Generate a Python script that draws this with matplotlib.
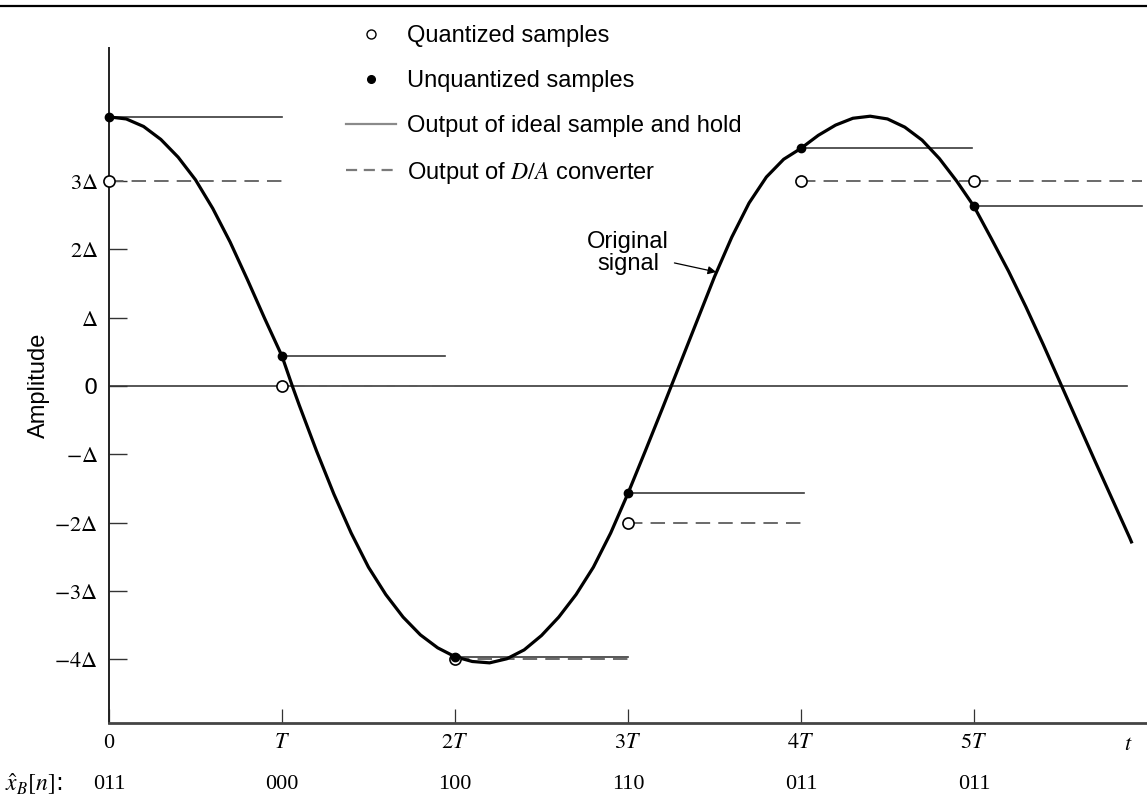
import matplotlib
matplotlib.use("Agg")
import matplotlib.pyplot as plt
from matplotlib.lines import Line2D

plt.rcParams['mathtext.fontset'] = 'stix'

# original signal (time in units of T, amplitude in units of delta)
sig_t = [0.0, 0.1, 0.2, 0.3, 0.4, 0.5, 0.6, 0.7, 0.8, 0.9, 1.0, 1.06, 1.1, 1.2,
         1.3, 1.4, 1.5, 1.6, 1.7, 1.8, 1.9, 2.0, 2.1, 2.2, 2.3, 2.4, 2.5, 2.6,
         2.7, 2.8, 2.9, 3.0, 3.1, 3.2, 3.3, 3.4, 3.5, 3.6, 3.7, 3.8, 3.9, 4.0,
         4.1, 4.2, 4.3, 4.4, 4.5, 4.6, 4.7, 4.8, 4.9, 5.0, 5.1, 5.2, 5.3, 5.4,
         5.5, 5.6, 5.7, 5.8, 5.9, 5.91]
sig_v = [3.94, 3.91, 3.80, 3.61, 3.35, 3.02, 2.60, 2.11, 1.56, 0.99, 0.44, 0.0,
         -0.28, -0.95, -1.58, -2.15, -2.65, -3.05, -3.38, -3.64, -3.83, -3.96,
         -4.03, -4.05, -3.99, -3.86, -3.65, -3.38, -3.05, -2.65, -2.15, -1.57,
         -0.95, -0.32, 0.32, 0.96, 1.60, 2.18, 2.68, 3.06, 3.32, 3.48, 3.67,
         3.82, 3.92, 3.95, 3.91, 3.79, 3.60, 3.33, 3.00, 2.63, 2.16, 1.68, 1.16,
         0.61, 0.04, -0.53, -1.10, -1.66, -2.22, -2.28]

sample_t = [0, 1, 2, 3, 4, 5]
unquantized = [3.94, 0.44, -3.96, -1.57, 3.48, 2.63]
quantized = [3, 0, -4, -2, 3, 3]
codes = ['011', '000', '100', '110', '011', '011']
hold_end = [1.0, 1.94, 3.0, 4.02, 4.99, 5.97]
da_end = [1.0, 2.0, 3.0, 4.02, 5.0, 5.97]

ytick_vals = [-4, -3, -2, -1, 0, 1, 2, 3]
ytick_labels = [r'$-4\Delta$', r'$-3\Delta$', r'$-2\Delta$', r'$-\Delta$', '0',
                r'$\Delta$', r'$2\Delta$', r'$3\Delta$']
xtick_labels = ['0', '$T$', '$2T$', '$3T$', '$4T$', '$5T$']

sans = 'Liberation Sans'
serif = 'Liberation Serif'

fig = plt.figure(figsize=(11.47, 7.98), dpi=100)
ax = fig.add_axes([0.095, 0.094, 0.905, 0.846])
ax.set_xlim(0, 6.0)
ax.set_ylim(-4.93, 4.95)

# zero reference line
ax.axhline(0, xmin=0, xmax=0.981, color='#3a3a3a', lw=1.2, zorder=1)

# sample and hold / D-A outputs
for t0, t1, u in zip(sample_t, hold_end, unquantized):
    ax.plot([t0, t1], [u, u], color='#3a3a3a', lw=1.2, zorder=2)
for t0, t1, q in zip(sample_t, da_end, quantized):
    ax.plot([t0, t1], [q, q], color='#5e5e5e', lw=1.3, ls=(0, (8, 4.5)), zorder=2)

ax.plot(sig_t, sig_v, color='black', lw=2.3, zorder=3, solid_joinstyle='round')

ax.plot(sample_t, quantized, 'o', ms=8, mfc='white', mec='black', mew=1.2,
        zorder=4, clip_on=False)
ax.plot(sample_t, unquantized, 'o', ms=6, color='black', zorder=5, clip_on=False)

# annotation for the signal
ax.annotate('Original\nsignal', xy=(3.51, 1.67), xytext=(3.0, 1.95),
            ha='center', va='center', fontsize=17, family=sans, linespacing=1.0,
            arrowprops=dict(arrowstyle='-|>', color='black', lw=0.9,
                            mutation_scale=12, shrinkA=2, shrinkB=0))

# axes styling
for s in ['top', 'right']:
    ax.spines[s].set_visible(False)
ax.spines['left'].set_color('#222222')
ax.spines['left'].set_linewidth(1.4)
ax.spines['bottom'].set_color('#444444')
ax.spines['bottom'].set_linewidth(2.0)

ax.set_yticks(ytick_vals)
ax.set_yticklabels(ytick_labels, fontsize=16)
ax.tick_params(axis='y', direction='in', length=13, width=1.0, color='#333333', pad=8)
ax.set_xticks(sample_t)
ax.set_xticklabels(xtick_labels, fontsize=16, family=serif)
ax.tick_params(axis='x', direction='in', length=10, width=0.9, color='#333333', pad=8)
ax.set_xticks([5.89], minor=True)
ax.set_xticklabels(['$t$'], minor=True, fontsize=16)
ax.tick_params(axis='x', which='minor', length=0, pad=8)

ax.set_ylabel('Amplitude', fontsize=17, family=sans, labelpad=3)

# codes row
trans = ax.get_xaxis_transform()
ax.text(-0.6, -0.091, r'$\hat{x}_B[n]$:', transform=trans, fontsize=17,
        ha='left', va='center')
for t, c in zip(sample_t, codes):
    ax.text(t, -0.091, c, transform=trans, fontsize=16, family=serif,
            ha='center', va='center')

# legend
handles = [
    Line2D([], [], ls='none', marker='o', ms=6.5, mfc='white', mec='black', mew=1.0),
    Line2D([], [], ls='none', marker='o', ms=5.5, color='black'),
    Line2D([], [], color='#8a8a8a', lw=1.6),
    Line2D([], [], color='#7a7a7a', lw=1.6, ls=(0, (5, 3))),
]
labels = ['Quantized samples', 'Unquantized samples',
          'Output of ideal sample and hold', 'Output of $D/A$ converter']
leg = ax.legend(handles, labels, loc='upper left', bbox_to_anchor=(346 / 1147, 1 - 25 / 798),
                bbox_transform=fig.transFigure, frameon=False, borderpad=0,
                borderaxespad=0, handlelength=2.1, handletextpad=0.5,
                labelspacing=0.97, prop={'family': sans, 'size': 17})

# page rule at top
fig.add_artist(Line2D([0, 1], [1 - 6 / 798, 1 - 6 / 798], transform=fig.transFigure,
                      color='black', lw=1.6))

fig.savefig('out.png', dpi=100)
